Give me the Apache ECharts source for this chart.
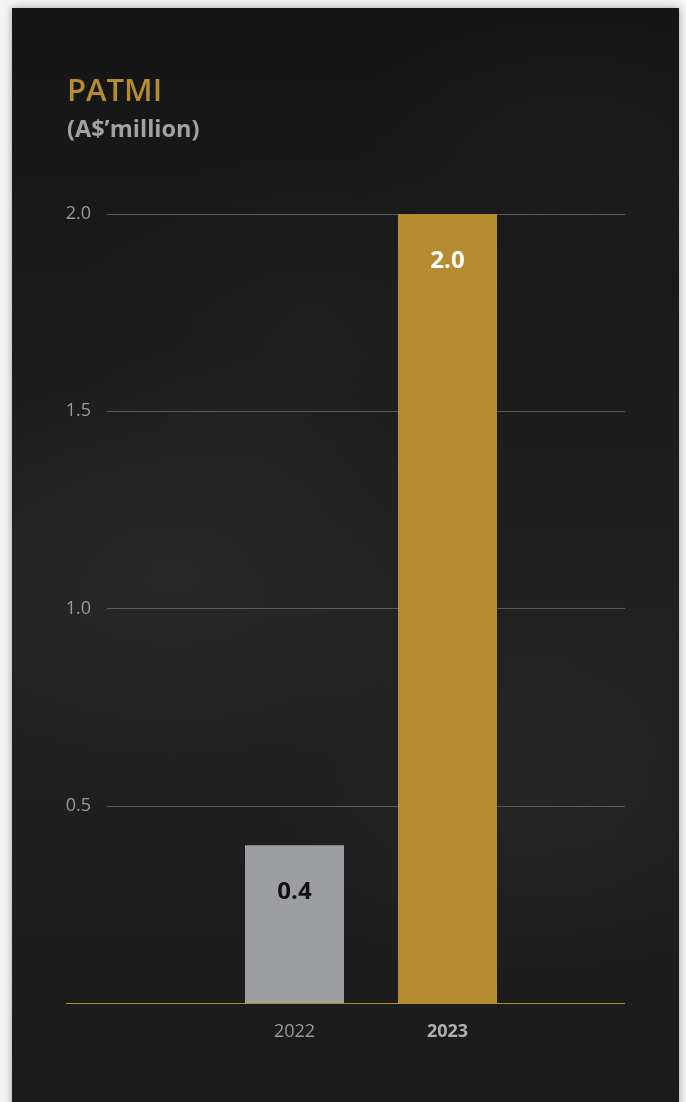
<!DOCTYPE html>
<html>
<head>
<meta charset="utf-8">
<script src="https://cdn.jsdelivr.net/npm/echarts@6/dist/echarts.min.js"></script>
<style>
  html, body { margin: 0; padding: 0; width: 686px; height: 1102px; background: #f4f4f4; overflow: hidden; }
  #card {
    position: absolute; left: 12px; top: 8px; width: 667px; height: 1110px;
    background:
      radial-gradient(ellipse 300px 220px at 160px 560px, rgba(60,60,60,0.30), rgba(0,0,0,0)),
      radial-gradient(ellipse 260px 200px at 520px 780px, rgba(55,55,55,0.25), rgba(0,0,0,0)),
      radial-gradient(ellipse 240px 180px at 300px 320px, rgba(50,50,50,0.22), rgba(0,0,0,0)),
      radial-gradient(ellipse 220px 160px at 560px 140px, rgba(45,45,45,0.22), rgba(0,0,0,0)),
      linear-gradient(180deg, #151515 0%, #1b1b1b 30%, #212121 55%, #1e1e1e 80%, #1a1a1a 100%);
    box-shadow: 0 0 8px rgba(0,0,0,0.35);
  }
  #chart { position: absolute; left: 0; top: 0; width: 686px; height: 1102px; }
</style>
</head>
<body>
<div id="card"></div>
<div id="chart"></div>
<script>
const categories = ['2022', '2023'];
const values = [0.4, 2.0];
const yTicks = ['0.5', '1.0', '1.5', '2.0'];
const titleText = 'PATMI';
const subtitleText = '(A$\u2019million)';

const FONT = '"Open Sans", "Noto Sans", sans-serif';
const GOLD = '#b58c2f';
const GREY_BAR = '#9d9ea2';
const GRID_GREY = '#5c5b57';

const chart = echarts.init(document.getElementById('chart'), null, { renderer: 'canvas' });

const gTop = 214, gBottom = 99;

chart.setOption({
  backgroundColor: 'transparent',
  animation: false,
  title: {
    text: titleText,
    subtext: subtitleText,
    left: 62,
    top: 72,
    itemGap: 10,
    textStyle: { color: GOLD, fontFamily: FONT, fontSize: 31, fontWeight: 600 },
    subtextStyle: { color: '#a1a1a6', fontFamily: FONT, fontSize: 23.5, fontWeight: 'bold' }
  },
  grid: [
    { left: 107, right: 61, top: gTop, bottom: gBottom },
    { left: 66, right: 61, top: gTop, bottom: gBottom },
    { left: 218, right: 162, top: gTop, bottom: gBottom }
  ],
  xAxis: [
    { gridIndex: 0, type: 'category', data: categories, show: false },
    { gridIndex: 1, type: 'category', data: categories, show: false },
    { gridIndex: 2, type: 'category', data: [
        { value: categories[0], textStyle: { color: '#9a9a9a', fontWeight: 'normal' } },
        { value: categories[1], textStyle: { color: '#b0b0b2', fontWeight: 'bold' } }
      ],
      axisLine: { show: false }, axisTick: { show: false },
      axisLabel: { margin: 20, fontFamily: FONT, fontSize: 18 } }
  ],
  yAxis: [
    { gridIndex: 0, type: 'value', min: 0, max: 2, interval: 0.5, z: 0,
      axisLine: { show: false }, axisTick: { show: false },
      splitLine: { show: true, showMinLine: false, lineStyle: { color: GRID_GREY, width: 1 } },
      axisLabel: {
        margin: 16, color: '#9a9a9a', fontFamily: FONT, fontSize: 18,
        formatter: function (v) { return yTicks.indexOf(v.toFixed(1)) >= 0 ? v.toFixed(1) : ''; }
      } },
    { gridIndex: 1, type: 'value', min: 0, max: 2, interval: 2, z: 10,
      axisLine: { show: false }, axisTick: { show: false }, axisLabel: { show: false },
      splitLine: { show: true, showMaxLine: false, lineStyle: { color: GOLD, width: 1 } } },
    { gridIndex: 2, type: 'value', min: 0, max: 2, interval: 0.5, show: false }
  ],
  series: [
    {
      type: 'bar', xAxisIndex: 2, yAxisIndex: 2,
      barWidth: 99, z: 5,
      data: values.map(function (v, i) {
        return {
          value: v,
          itemStyle: { color: i === 0 ? GREY_BAR : GOLD },
          label: { color: i === 0 ? '#111111' : '#ffffff' }
        };
      }),
      label: {
        show: true, position: 'insideTop', distance: 35,
        fontFamily: FONT, fontSize: 24, fontWeight: 'bold',
        formatter: function (p) { return p.value.toFixed(1); }
      }
    }
  ]
});
</script>
</body>
</html>
